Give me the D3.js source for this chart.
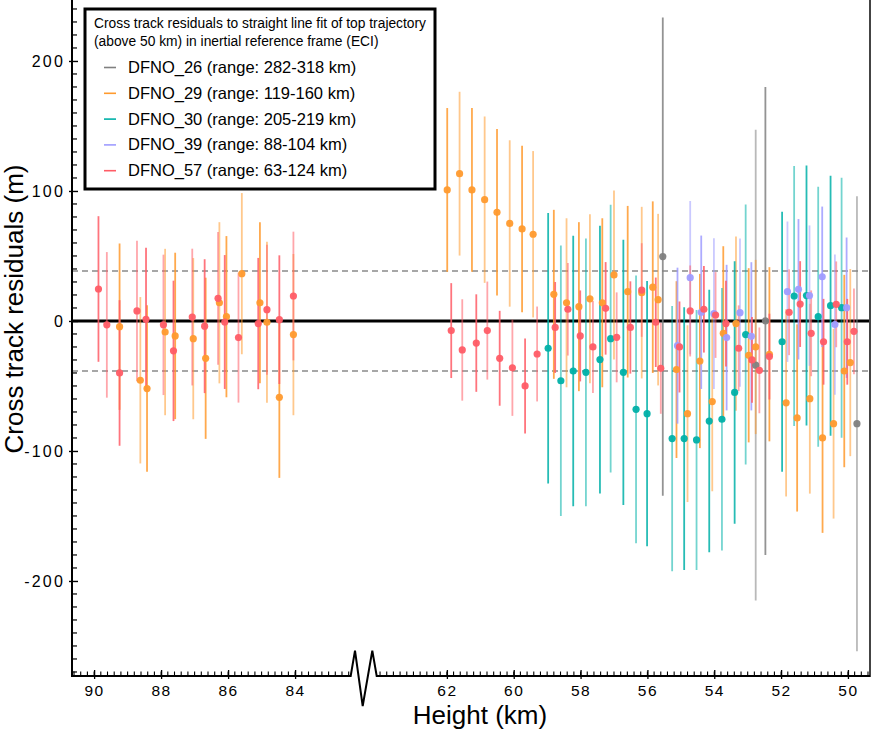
<!DOCTYPE html>
<html>
<head>
<meta charset="utf-8">
<script src="https://cdn.jsdelivr.net/npm/d3@7.9.0/dist/d3.min.js"></script>
<style>
  body { margin: 0; background: #fff; }
  svg { display: block; font-family: "Liberation Sans", Arial, Helvetica, sans-serif; }
</style>
</head>
<body>
<svg></svg>
<script>
// legend / series
const seriesNames = [
  "DFNO_26 (range: 282-318 km)",
  "DFNO_29 (range: 119-160 km)",
  "DFNO_30 (range: 205-219 km)",
  "DFNO_39 (range: 88-104 km)",
  "DFNO_57 (range: 63-124 km)"
];
const seriesColors = ["#808080", "#ff9a2e", "#00b0a8", "#9f9cff", "#ff5c66"];
const legendTitle = [
  "Cross track residuals to straight line fit of top trajectory",
  "(above 50 km) in inertial reference frame (ECI)"
];

// height (km), residual (m), 1-sigma error (m)
const h26 = [55.54, 52.76, 52.47, 49.73];
const v26 = [49.5, -34, 0, -79];
const e26 = [184, 181, 180, 175];

const h29 = [89.24, 88.62, 88.42, 87.88, 87.58, 87.04, 86.67, 86.26, 86.05, 85.59, 85.05, 84.84, 84.47, 84.05,
  61.99, 61.62, 61.25, 60.87, 60.5, 60.12, 59.75, 59.42, 58.8, 58.42, 58.05, 57.72, 57.35, 57.0, 56.59, 56.17,
  55.84, 55.68, 55.13, 54.8, 54.43, 54.06, 53.73, 53.35, 52.97, 52.76, 52.35, 51.85, 51.52, 51.14, 50.76, 50.43,
  50.11, 49.93];
const v29 = [-4.4, -45.6, -52, -8.5, -11.5, -13.6, -28.7, 14, 3.3, 36.4, 14, -1, -58.7, -10.5,
  100.8, 113.3, 100.8, 93.3, 83.6, 75, 70.8, 66.7, 20.5, 14, 11, 17, 14, 35.4, 22.5, 21.8,
  26, 16.4, -37.4, -71.3, -30.8, -62, -9.5, -2, -26.4, -20, -25.6, -63, -74.6, -59.8, -90, -79,
  -38.5, -32];
const e29 = [64, 64, 64, 64, 64, 62, 62, 62, 62, 62, 62, 62, 62, 62,
  63, 63, 63, 64, 64, 64, 64, 64, 65, 65, 65, 65, 65, 65, 66, 66,
  66, 66, 68, 68, 67, 69, 67, 67, 67, 67, 67, 72, 72, 73, 73, 73,
  74, 72];

const h30 = [58.97, 58.59, 58.22, 57.84, 57.42, 57.1, 56.72, 56.34, 56.01, 55.26, 54.9, 54.53, 54.15, 53.77,
  53.39, 53.06, 51.97, 51.61, 51.24, 50.89, 50.52, 50.19];
const v30 = [-21, -46, -38.5, -39.5, -29.7, -13.6, -39.5, -68, -71.3, -90.5, -90.5, -91.5, -77, -75.6,
  -55, -10.5, -16, 19.2, 19.5, 3.3, 11.8, 10.2];
const e30 = [104, 104, 104, 103, 103, 103, 102, 103, 102, 102, 101, 100, 101, 101,
  101, 100, 100, 100, 100, 100, 100, 100];

const h39 = [55.1, 54.72, 54.39, 54.01, 53.63, 53.23, 52.89, 51.81, 51.48, 51.15, 50.77, 50.39, 50.04];
const v39 = [-19, 33.3, 6.7, 5.6, -12.8, 6.4, -11.8, 22.5, 24.4, 19.5, 34, -2.8, 10.2];
const e39 = [60, 59, 59, 58, 56, 57, 57, 54, 54, 54, 54, 54, 54];

const h57 = [89.87, 89.62, 89.24, 88.72, 88.45, 87.93, 87.63, 87.07, 86.7, 86.3, 86.1, 85.69, 85.1, 84.84, 84.47, 84.05,
  61.87, 61.54, 61.12, 60.79, 60.42, 60.04, 59.66, 59.3, 58.76, 58.38, 58.01, 57.63, 57.25, 56.92, 56.51, 56.17,
  55.75, 55.6, 55.04, 54.72, 54.31, 53.96, 53.65, 53.27, 52.87, 52.65, 52.35, 51.76, 51.43, 51.1, 50.73, 50.35,
  50.02, 49.82];
const v57 = [24.6, -3, -40, 7.7, 1.3, -3, -23, 3, -4, 17.4, -0.8, -12.8, -2, 8.7, 1, 19.2,
  -7.4, -22.3, -17, -7.4, -28.7, -36, -50, -25.4, -5, 9, -11.5, -20, 9.7, -12.6, -5, 23.8,
  -1, -36.4, -20, 7.7, 9, 4.6, -2, -21, -30, -38, -27.4, 6.7, 13, -9.5, -16, 12.8,
  -16, -8];
const e57 = [56, 56, 56, 54, 55, 54, 54, 52.6, 51.5, 51, 51.5, 50, 50.5, 50, 49.5, 49.5,
  36.5, 39, 37.5, 37.7, 36.5, 37, 36.5, 36.5, 35, 35.6, 35, 35.4, 35.6, 34.6, 35.5, 36,
  34.4, 35, 35, 35, 33.3, 33, 33, 33, 33, 33, 33, 33, 33, 33, 33, 33,
  33, 33];

const yTickValues = [-200, -100, 0, 100, 200];
const xTicksLeft = [90, 88, 86, 84];
const xTicksRight = [62, 60, 58, 56, 54, 52, 50];
const sigmaLevels = [38.5, -38.5];

const width = 891;
const height = 732;

const svg = d3.select("svg")
    .attr("width", width)
    .attr("height", height);

const y = d3.scaleLinear().domain([-273.1, 246.9]).range([676, 0]);
const xLeft = d3.scaleLinear().domain([90.66, 82.34]).range([72, 350.7]);
const xRight = d3.scaleLinear().domain([64.1, 49.34]).range([376.7, 870]);
const xPos = h => h > 70 ? xLeft(h) : xRight(h);

const series = [
  { h: h26, v: v26, e: e26 },
  { h: h29, v: v29, e: e29 },
  { h: h30, v: v30, e: e30 },
  { h: h39, v: v39, e: e39 },
  { h: h57, v: v57, e: e57 }
].map((s, k) => ({
  name: seriesNames[k],
  color: seriesColors[k],
  points: s.h.map((h, i) => ({ h: h, v: s.v[i], e: s.e[i], i: i }))
}));

// reference lines
svg.selectAll(".sigma")
    .data(sigmaLevels)
    .enter().append("line")
    .attr("class", "sigma")
    .attr("x1", 72).attr("x2", 870)
    .attr("y1", d => y(d)).attr("y2", d => y(d))
    .attr("stroke", "#8a8a8a")
    .attr("stroke-width", 1.5)
    .attr("stroke-dasharray", "6,4");

svg.append("line")
    .attr("x1", 72).attr("x2", 870)
    .attr("y1", y(0)).attr("y2", y(0))
    .attr("stroke", "#000")
    .attr("stroke-width", 3);

// error bars
series.forEach(s => {
  svg.append("g").selectAll("line")
      .data(s.points)
      .enter().append("line")
      .attr("x1", d => xPos(d.h)).attr("x2", d => xPos(d.h))
      .attr("y1", d => y(d.v + d.e)).attr("y2", d => y(d.v - d.e))
      .attr("stroke", s.color)
      .attr("stroke-width", 1.8)
      .attr("stroke-opacity", d => d.i % 2 ? 0.55 : 0.85);
});

// points
series.forEach(s => {
  svg.append("g").selectAll("circle")
      .data(s.points)
      .enter().append("circle")
      .attr("cx", d => xPos(d.h))
      .attr("cy", d => y(d.v))
      .attr("r", 3.6)
      .attr("fill", s.color)
      .attr("fill-opacity", 0.95);
});

// y axis
const yMinor = d3.range(-27, 25).map(i => i * 10).filter(d => yTickValues.indexOf(d) < 0);
svg.append("g").selectAll("line")
    .data(yMinor)
    .enter().append("line")
    .attr("x1", 72).attr("x2", 77)
    .attr("y1", d => y(d)).attr("y2", d => y(d))
    .attr("stroke", "#000").attr("stroke-width", 1.2);

const gy = svg.append("g")
    .attr("transform", "translate(72,0)")
    .call(d3.axisLeft(y).tickValues(yTickValues).tickSizeOuter(0).tickFormat(d => String(d)));
gy.select(".domain").remove();
gy.selectAll(".tick line").attr("x1", -3).attr("x2", 6).attr("stroke-width", 1.4);
gy.selectAll(".tick text")
    .attr("x", -7)
    .attr("font-size", 16)
    .attr("letter-spacing", 2.2)
    .attr("font-family", "Liberation Sans, Arial, sans-serif")
    .attr("fill", "#000");

svg.append("line")
    .attr("x1", 72).attr("x2", 72)
    .attr("y1", 0).attr("y2", 677)
    .attr("stroke", "#000").attr("stroke-width", 2);

// right frame
svg.append("line")
    .attr("x1", 870).attr("x2", 870)
    .attr("y1", 0).attr("y2", 677)
    .attr("stroke", "#444").attr("stroke-width", 2);

// x axis (broken)
const minorLeft = d3.range(0, 42).map(i => 90.6 - 0.2 * i);
const minorRight = d3.range(0, 74).map(i => 64.0 - 0.2 * i);
svg.append("g").selectAll("line")
    .data(minorLeft.map(xLeft).concat(minorRight.map(xRight)))
    .enter().append("line")
    .attr("x1", d => d).attr("x2", d => d)
    .attr("y1", 671.5).attr("y2", 677)
    .attr("stroke", "#000").attr("stroke-width", 1.1);

[[xLeft, xTicksLeft], [xRight, xTicksRight]].forEach(([sc, vals]) => {
  const g = svg.append("g")
      .attr("transform", "translate(0,676)")
      .call(d3.axisBottom(sc).tickValues(vals).tickSizeOuter(0).tickSizeInner(3).tickPadding(6).tickFormat(d => String(d)));
  g.select(".domain").remove();
  g.selectAll(".tick line").attr("y1", -6).attr("y2", 3).attr("stroke-width", 1.3);
  g.selectAll(".tick text")
      .attr("font-size", 15.5)
      .attr("letter-spacing", 1.5)
      .attr("font-family", "Liberation Sans, Arial, sans-serif")
      .attr("fill", "#000");
});

const bx0 = xLeft.range()[1], bx1 = xRight.range()[0], by = 676;
svg.append("path")
    .attr("d", `M72,${by}H${bx0}L${bx0 + 4.3},${by - 25.3}L${bx0 + 12},${by + 30}L${bx1 - 4.4},${by - 25.3}L${bx1},${by}H870`)
    .attr("fill", "none")
    .attr("stroke", "#000")
    .attr("stroke-width", 2);

// axis titles
svg.append("text")
    .attr("x", 480).attr("y", 724)
    .attr("text-anchor", "middle")
    .attr("font-size", 26)
    .text("Height (km)");

svg.append("text")
    .attr("transform", "translate(23,309) rotate(-90)")
    .attr("text-anchor", "middle")
    .attr("font-size", 26)
    .text("Cross track residuals (m)");

// legend
const legend = svg.append("g");
legend.append("rect")
    .attr("x", 85).attr("y", 9)
    .attr("width", 350).attr("height", 180)
    .attr("fill", "#fff")
    .attr("stroke", "#000")
    .attr("stroke-width", 3);

legend.selectAll(".ltitle")
    .data(legendTitle)
    .enter().append("text")
    .attr("x", 94)
    .attr("y", (d, i) => 28 + i * 18)
    .attr("font-size", 13.8)
    .text(d => d);

const entry = legend.selectAll(".entry")
    .data(series)
    .enter().append("g")
    .attr("transform", (d, i) => `translate(0,${73 + i * 25.8})`);
entry.append("line")
    .attr("x1", 104).attr("x2", 116)
    .attr("y1", -5.5).attr("y2", -5.5)
    .attr("stroke", d => d.color)
    .attr("stroke-width", 1.6);
entry.append("text")
    .attr("x", 128)
    .attr("font-size", 16.5)
    .text(d => d.name);
</script>
</body>
</html>
